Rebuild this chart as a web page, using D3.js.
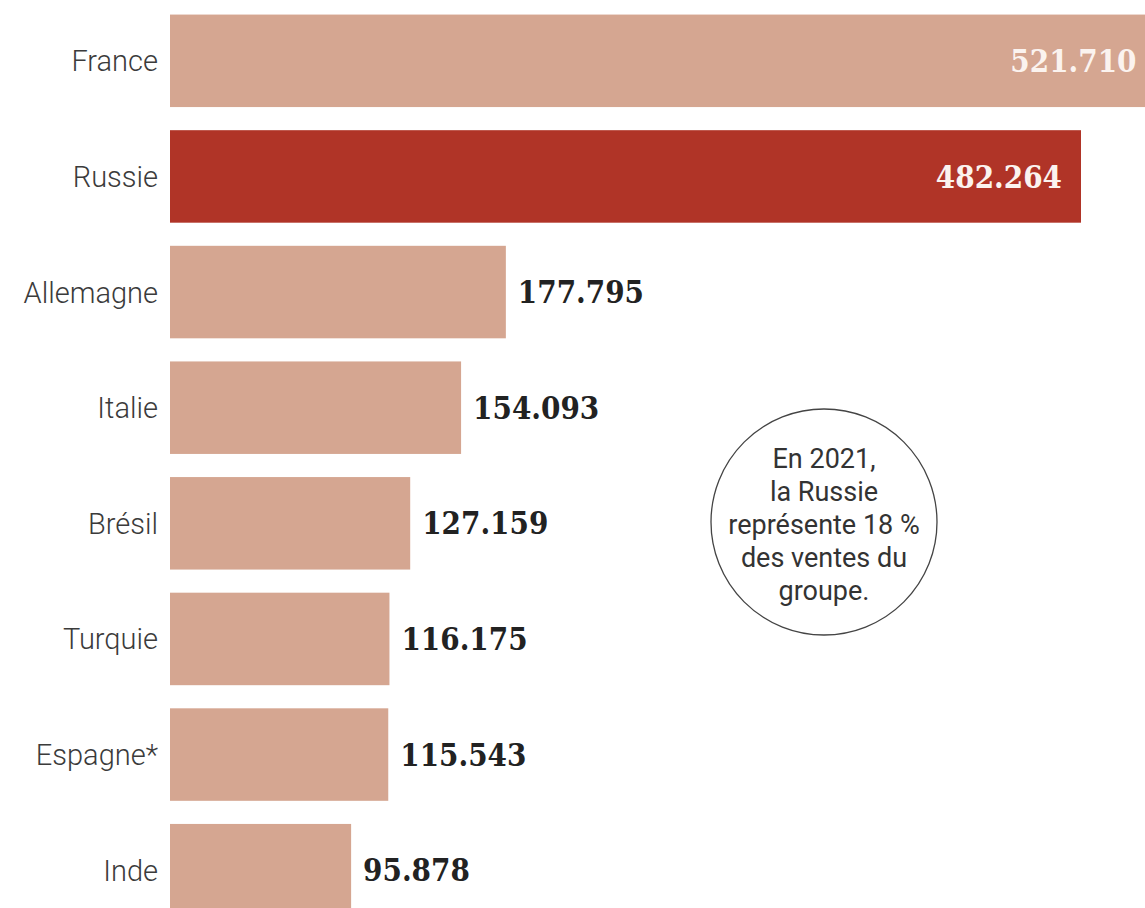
<!DOCTYPE html>
<html>
<head>
<meta charset="utf-8">
<script src="https://cdn.jsdelivr.net/npm/d3@7"></script>
<style>
  body { margin: 0; background: #fff; overflow: hidden; }
  .country { font-family: Roboto, "Noto Sans", sans-serif; font-weight: 300; font-size: 29px; fill: #3b3b3b; }
  .value { font-family: "DejaVu Serif Condensed", "DejaVu Serif", serif; font-weight: bold; font-size: 31px; }
  .note { font-family: Roboto, "Noto Sans", sans-serif; font-size: 27px; fill: #333; }
</style>
</head>
<body>
<svg id="chart"></svg>
<script>
// ventes 2021 par pays (unités)
const countries = ['France', 'Russie', 'Allemagne', 'Italie', 'Brésil', 'Turquie', 'Espagne*', 'Inde'];
const sales = [521.710, 482.264, 177.795, 154.093, 127.159, 116.175, 115.543, 95.878];
const salesLabels = ['521.710', '482.264', '177.795', '154.093', '127.159', '116.175', '115.543', '95.878'];
const highlight = 'Russie';
const noteLines = ['En 2021,', 'la Russie', 'représente 18 %', 'des ventes du', 'groupe.'];

const width = 1145, height = 908;

const svg = d3.select('#chart')
    .attr('width', width)
    .attr('height', height);

const data = countries.map((c, i) => ({country: c, value: sales[i], label: salesLabels[i]}));

const x = d3.scaleLinear()
    .domain([0, 500])
    .range([170, 1114.5]);

const y = d3.scaleBand()
    .domain(countries)
    .range([3, 928])
    .paddingInner(0.2)
    .paddingOuter(0.1);

// bars
svg.append('g')
  .selectAll('rect')
    .data(data)
  .join('rect')
    .attr('x', x(0))
    .attr('y', d => y(d.country))
    .attr('width', d => x(d.value) - x(0))
    .attr('height', y.bandwidth())
    .attr('fill', d => d.country === highlight ? '#b03427' : '#d5a691');

// country names
svg.append('g')
  .selectAll('text')
    .data(data)
  .join('text')
    .attr('class', 'country')
    .attr('x', x(0) - 12)
    .attr('y', d => y(d.country) + y.bandwidth() / 2)
    .attr('dy', '0.36em')
    .attr('text-anchor', 'end')
    .text(d => d.country);

// values: inside the long bars, outside the others
const inside = d => d.value > 400;
svg.append('g')
  .selectAll('text')
    .data(data)
  .join('text')
    .attr('class', 'value')
    .attr('x', d => inside(d) ? x(d.value) - 19 : x(d.value) + 12)
    .attr('y', d => y(d.country) + y.bandwidth() / 2)
    .attr('dy', '0.36em')
    .attr('text-anchor', d => inside(d) ? 'end' : 'start')
    .attr('fill', d => inside(d) ? '#fbf3ef' : '#222')
    .text(d => d.label);

// annotation bubble
const note = svg.append('g').attr('transform', 'translate(824,522)');
note.append('circle')
    .attr('r', 113)
    .attr('fill', '#fff')
    .attr('stroke', '#444')
    .attr('stroke-width', 1.3);
note.append('text')
    .attr('class', 'note')
    .attr('text-anchor', 'middle')
  .selectAll('tspan')
    .data(noteLines)
  .join('tspan')
    .attr('x', 0)
    .attr('y', (d, i) => -54 + i * 33)
    .text(d => d);
</script>
</body>
</html>
